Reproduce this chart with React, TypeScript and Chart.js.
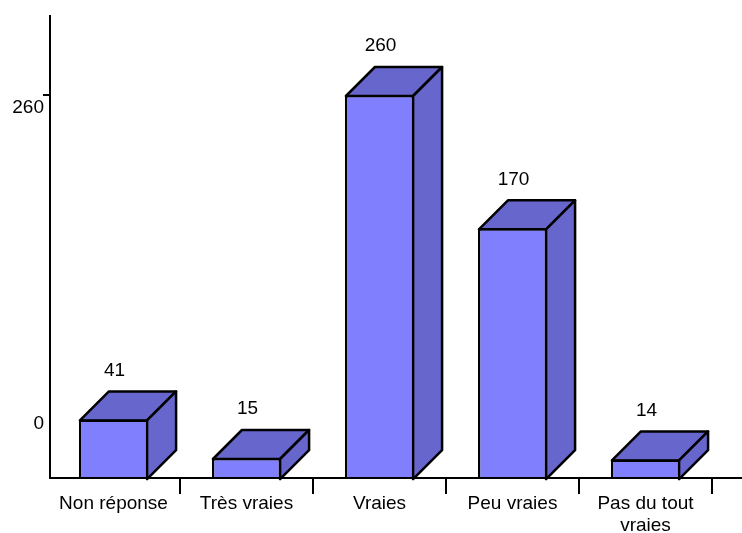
import React, { useEffect, useRef } from "react";
import { Chart, registerables } from "chart.js";

Chart.register(...registerables);

const categories: (string | string[])[] = ["Non réponse", "Très vraies", "Vraies", "Peu vraies", ["Pas du tout", "vraies"]];
const counts = [41, 15, 260, 170, 14];
const yTickValues = [0, 260];

const FONT = "Liberation Sans";
const FONT_SIZE = 19;
const FRONT = "#8080FF";
const SHADE = "#6666CC";
const DEPTH = 29;
const EDGE = 2.5;

const cube3d = {
  id: "cube3d",
  beforeDatasetsDraw(chart: any) {
    const { ctx } = chart;
    ctx.save();
    ctx.fillStyle = SHADE;
    ctx.strokeStyle = "#000";
    ctx.lineWidth = EDGE;
    ctx.lineJoin = "round";
    chart.getDatasetMeta(0).data.forEach((bar: any) => {
      const l = bar.x - bar.width / 2 + 1;
      const r = bar.x + bar.width / 2 - 1;
      const t = bar.y + 1;
      const b = bar.base - 1;
      ctx.beginPath();
      ctx.moveTo(l, t);
      ctx.lineTo(l + DEPTH, t - DEPTH);
      ctx.lineTo(r + DEPTH, t - DEPTH);
      ctx.lineTo(r, t);
      ctx.closePath();
      ctx.fill();
      ctx.stroke();
      ctx.beginPath();
      ctx.moveTo(r, t);
      ctx.lineTo(r + DEPTH, t - DEPTH);
      ctx.lineTo(r + DEPTH, b - DEPTH);
      ctx.lineTo(r, b);
      ctx.closePath();
      ctx.fill();
      ctx.stroke();
    });
    ctx.restore();
  },
  afterDatasetsDraw(chart: any) {
    const { ctx, scales, chartArea } = chart;
    const axisX = 50;
    ctx.save();
    ctx.strokeStyle = "#000";
    ctx.lineWidth = 2;
    const line = (x1: number, y1: number, x2: number, y2: number) => {
      ctx.beginPath();
      ctx.moveTo(x1, y1);
      ctx.lineTo(x2, y2);
      ctx.stroke();
    };
    const y0 = chartArea.bottom;
    line(axisX, chartArea.top, axisX, y0 + 1);
    line(axisX - 1, y0, 742, y0);
    const tickY = scales.y.getPixelForValue(yTickValues[1]);
    line(axisX - 7, tickY, axisX, tickY);
    const step = scales.x.getPixelForValue(1) - scales.x.getPixelForValue(0);
    categories.forEach((_, i) => {
      const x = Math.round(scales.x.getPixelForValue(i) + step / 2);
      line(x, y0, x, y0 + 16);
    });

    ctx.fillStyle = "#000";
    ctx.font = `${FONT_SIZE}px "${FONT}"`;
    ctx.textBaseline = "middle";
    ctx.textAlign = "right";
    ctx.fillText(String(yTickValues[1]), 44, tickY + 13);
    ctx.fillText(String(yTickValues[0]), 44, y0 - 54);
    ctx.textAlign = "center";
    chart.getDatasetMeta(0).data.forEach((bar: any, i: number) => {
      ctx.fillText(String(counts[i]), bar.x + 1, bar.y - 49);
    });
    ctx.restore();
  },
};

export default function App() {
  const ref = useRef<HTMLCanvasElement>(null);
  useEffect(() => {
    const chart = new Chart(ref.current as HTMLCanvasElement, {
      type: "bar",
      data: {
        labels: categories as any,
        datasets: [
          {
            data: counts,
            backgroundColor: FRONT,
            borderColor: "#000",
            borderWidth: EDGE,
            borderSkipped: false,
            barPercentage: 0.52,
            categoryPercentage: 1,
          },
        ],
      },
      options: {
        animation: false,
        responsive: false,
        devicePixelRatio: 1,
        layout: { padding: { left: 47, right: 30, top: 15, bottom: 0 } },
        plugins: { legend: { display: false }, tooltip: { enabled: false }, title: { display: false } },
        scales: {
          x: {
            grid: { display: false },
            border: { display: false },
            afterFit(scale: any) {
              scale.height = 55;
            },
            ticks: {
              autoSkip: false,
              maxRotation: 0,
              minRotation: 0,
              padding: 6,
              color: "#000",
              font: { family: FONT, size: FONT_SIZE, lineHeight: 1.2 },
            },
          },
          y: { display: false, min: 1.5, max: 314 },
        },
      } as any,
      plugins: [cube3d],
    });
    return () => chart.destroy();
  }, []);
  return (
    <canvas
      ref={ref}
      width={742}
      height={533}
      style={{ position: "absolute", left: 0, top: 0, display: "block", background: "#fff" }}
    />
  );
}
